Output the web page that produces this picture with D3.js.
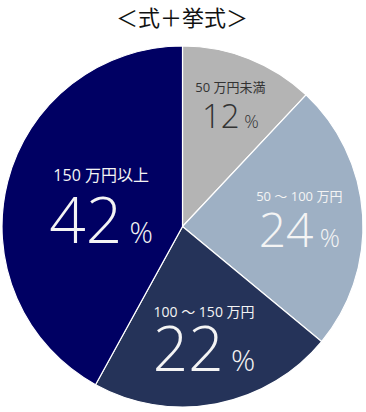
<!DOCTYPE html>
<html><head><meta charset="utf-8">
<script src="https://cdn.jsdelivr.net/npm/d3@7"></script>
<style>body{margin:0;background:#fff;}svg{display:block;}</style>
</head><body>
<svg id="c" width="366" height="412"></svg>
<script>
const title = "＜式＋挙式＞";
const categories = ["50 万円未満", "50 ～ 100 万円", "100 ～ 150 万円", "150 万円以上"];
const values = [12, 24, 22, 42];
const colors = ["#b4b4b4", "#9eb0c4", "#253359", "#000063"];
const textColors = ["#333333", "#f4f4f4", "#f4f4f4", "#f4f4f4"];

// layout (per slice): label radius, label font, number font, label dy, number dy
const layout = [
  {r:130, lf:13, nf:33, pf:18, ldy:-14, ndy:22},
  {r:117, lf:13, nf:48, pf:25, ldy:-18, ndy:28},
  {r:115, lf:14, nf:62, pf:30, ldy:-22, ndy:32},
  {r:84,  lf:16, nf:64, pf:29, ldy:-25, ndy:37}
];

const svg = d3.select("#c");
const cx = 182.5, cy = 226.5, R = 180.5;
const font = "'Open Sans','Noto Sans CJK JP',sans-serif";

svg.append("text").attr("x", 182).attr("y", 26)
  .attr("text-anchor","middle")
  .attr("font-family", "'Noto Sans CJK JP',sans-serif").attr("font-size", 22)
  .attr("fill","#111").text(title);

const pie = d3.pie().sort(null).value(d => d)(values);
const arc = d3.arc().innerRadius(0).outerRadius(R);
const g = svg.append("g").attr("transform", `translate(${cx},${cy})`);

g.selectAll("path").data(pie).join("path")
  .attr("d", arc).attr("fill", (d,i) => colors[i])
  .attr("stroke", "#fff").attr("stroke-width", 1.2);

pie.forEach((d,i) => {
  const L = layout[i];
  const a = (d.startAngle + d.endAngle)/2;
  const x = Math.sin(a)*L.r, y = -Math.cos(a)*L.r;
  const tg = g.append("g").attr("transform", `translate(${x},${y})`)
    .attr("fill", textColors[i]).attr("font-family", font).attr("text-anchor","middle");
  tg.append("text").attr("y", L.ldy).attr("font-size", L.lf).attr("font-weight", 400).text(categories[i]);
  const t = tg.append("text").attr("y", L.ndy).attr("font-weight", 300);
  t.append("tspan").attr("font-size", L.nf).text(values[i]);
  t.append("tspan").attr("font-size", L.pf).attr("dx", L.pf*0.25).text("%");
});
</script>
</body></html>
